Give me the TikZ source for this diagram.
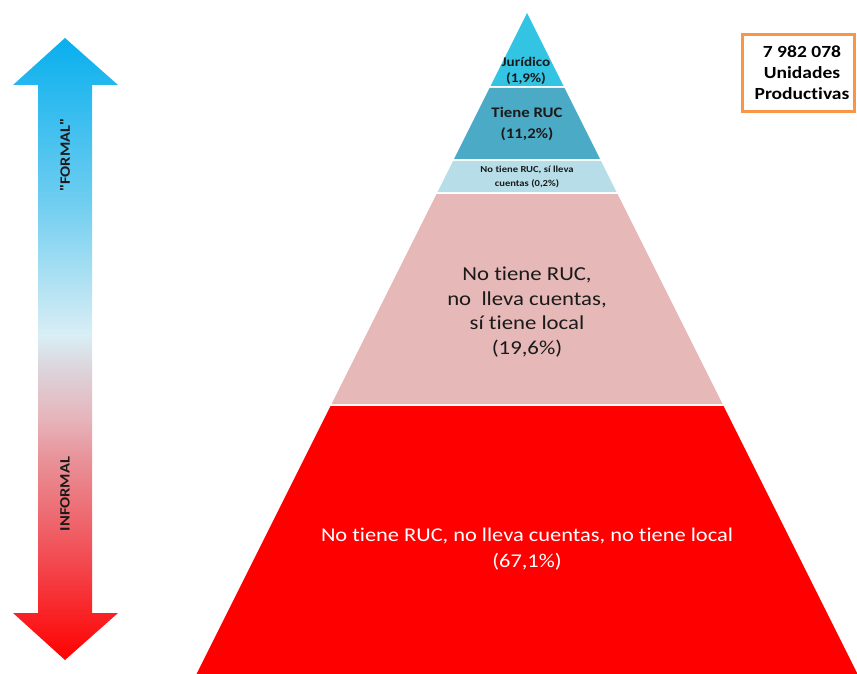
\documentclass[tikz,border=0pt]{standalone}
\usepackage{fontspec}
\setmainfont{Carlito}[FakeStretch=1.15, Ligatures=NoCommon]
\newfontfamily\rawq{Carlito}[FakeStretch=1.15, Ligatures={TeXOff,NoCommon}]
\definecolor{cJur}{HTML}{33C3E3}
\definecolor{cRuc}{HTML}{4BAAC6}
\definecolor{cLle}{HTML}{B7DEE8}
\definecolor{cLoc}{HTML}{E6B8B7}
\definecolor{cRed}{HTML}{FF0000}
\definecolor{cOra}{HTML}{F79646}
\definecolor{cTxt}{HTML}{1A1A1A}
\pgfdeclareverticalshading{formalshade}{100bp}{%
 color(0bp)=(cRed);
 color(25bp)=(cRed);
 color(33bp)=({rgb,255:red,242;green,74;blue,80});
 color(41.5bp)=({rgb,255:red,232;green,149;blue,156});
 color(44.3bp)=({rgb,255:red,230;green,180;blue,186});
 color(48.3bp)=({rgb,255:red,221;green,211;blue,218});
 color(51.1bp)=({rgb,255:red,217;green,238;blue,245});
 color(62bp)=({rgb,255:red,110;green,205;blue,240});
 color(75bp)=({rgb,255:red,8;green,175;blue,238});
 color(100bp)=({rgb,255:red,8;green,175;blue,238})}
\tikzset{
 layer/.style={draw=none},
 lbl/.style={align=center, inner sep=0pt, text=cTxt},
}
\begin{document}
\begin{tikzpicture}[x=1pt,y=-1pt]
\useasboundingbox (0,0) rectangle (857,674);
% double arrow
\shade[shading=formalshade] (65,38) -- (118,85) -- (92,85) -- (92,613) -- (118,613) -- (65,660) -- (13,613) -- (38,613) -- (38,85) -- (13,85) -- cycle;
\node[lbl, rotate=90, font=\rawq\bfseries\fontsize{14.3}{16}\selectfont] (formal) at (65,155) {"FORMAL"};
\node[lbl, rotate=90, font=\bfseries\fontsize{14.3}{16}\selectfont] (informal) at (65,494) {INFORMAL};
% pyramid
\fill[cJur] (527,13) -- (563.5,86) -- (490.5,86) -- cycle;
\fill[cRuc] (489.5,88) -- (564.5,88) -- (600,159) -- (454,159) -- cycle;
\fill[cLle] (453,161) -- (601,161) -- (616.5,192) -- (437.5,192) -- cycle;
\fill[cLoc] (436.5,194) -- (617.5,194) -- (722.5,404) -- (331.5,404) -- cycle;
\fill[cRed] (330.5,406) -- (723.5,406) -- (857.5,674) -- (196.5,674) -- cycle;
\node[lbl, font=\bfseries\fontsize{13.2}{16.5}\selectfont] (jur) at (526,71) {Jurídico\\(1,9\%)};
\node[lbl, font=\bfseries\fontsize{14.6}{21.5}\selectfont] (ruc) at (527,124) {Tiene RUC\\(11,2\%)};
\node[lbl, font=\bfseries\fontsize{9.2}{14.5}\selectfont] (lle) at (527,177) {No tiene RUC, sí lleva\\cuentas (0,2\%)};
\node[lbl, font=\fontsize{19.8}{24.5}\selectfont] (loc) at (527,312) {No tiene RUC,\\no\ \ lleva cuentas,\\sí tiene local\\(19,6\%)};
\node[lbl, text=white, font=\fontsize{19.5}{26}\selectfont] (inf) at (527,549) {No tiene RUC, no lleva cuentas, no tiene local\\(67,1\%)};
% total box
\node[draw=cOra, line width=3pt, minimum width=112pt, minimum height=77pt, inner sep=0pt] (boxf) at (798.5,73.5) {};
\node[lbl, text=black, font=\bfseries\fontsize{17}{21}\selectfont] (tot) at (802,73) {7 982 078\\Unidades\\Productivas};
\end{tikzpicture}
\end{document}
